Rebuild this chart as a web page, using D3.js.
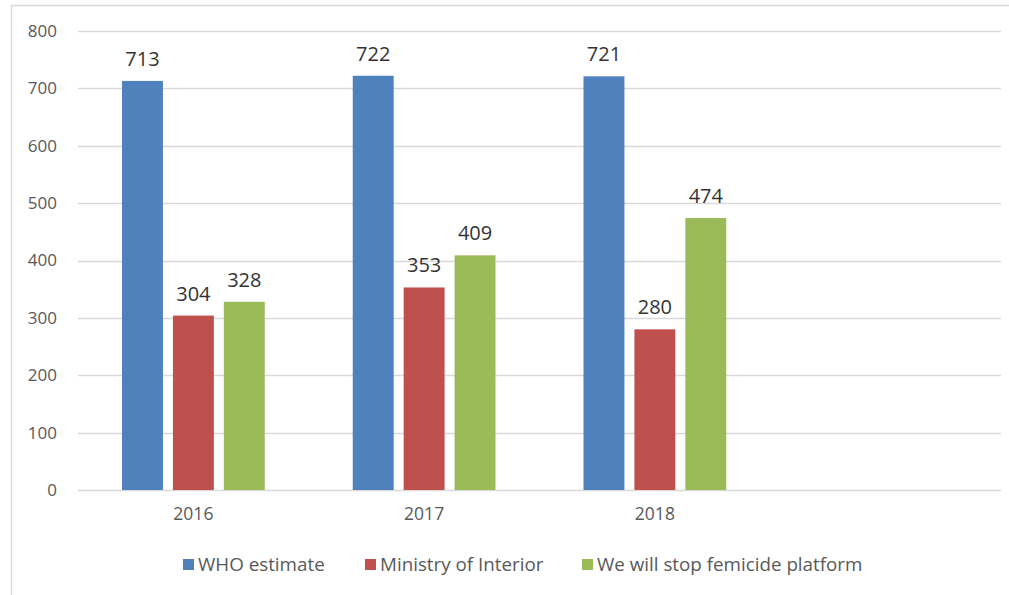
<!DOCTYPE html>
<html>
<head>
<meta charset="utf-8">
<script src="https://cdn.jsdelivr.net/npm/d3@7"></script>
<style>
  html, body { margin: 0; padding: 0; background: #ffffff; }
  svg { display: block; }
  text { font-family: "Open Sans", "DejaVu Sans", sans-serif; }
</style>
</head>
<body>
<svg id="chart" width="1009" height="595"></svg>
<script>
// Femicide counts by year and source
const years = ["2016", "2017", "2018", ""];
const seriesNames = ["WHO estimate", "Ministry of Interior", "We will stop femicide platform"];
const whoEstimate = [713, 722, 721];
const ministryOfInterior = [304, 353, 280];
const platformCounts = [328, 409, 474];
const seriesColors = ["#4F81BD", "#C0504D", "#9BBB59"];
const yTicks = [0, 100, 200, 300, 400, 500, 600, 700, 800];

const seriesValues = [whoEstimate, ministryOfInterior, platformCounts];

const svg = d3.select("#chart");
const W = 1009, H = 595;
const plot = { left: 78, right: 1001, top: 31, bottom: 490 };

// outer frame of the chart area
svg.append("rect")
  .attr("x", 11.5).attr("y", 5.5)
  .attr("width", W + 10).attr("height", H + 10)
  .attr("fill", "none").attr("stroke", "#d9d9d9").attr("stroke-width", 1.5);

const y = d3.scaleLinear().domain([0, 800]).range([plot.bottom, plot.top]);
const x0 = d3.scaleBand().domain(years).range([plot.left, plot.right]).padding(0);
const groupPad = 44;
const x1 = d3.scaleBand().domain(d3.range(seriesNames.length))
  .range([groupPad, x0.bandwidth() - groupPad]).paddingInner(0.196).paddingOuter(0);

// gridlines
svg.append("g").selectAll("line").data(yTicks).join("line")
  .attr("x1", plot.left).attr("x2", plot.right)
  .attr("y1", d => Math.round(y(d)) + 0.5).attr("y2", d => Math.round(y(d)) + 0.5)
  .attr("stroke", "#d9d9d9").attr("stroke-width", 1.5);

// y axis labels
const yAxis = d3.axisLeft(y).tickValues(yTicks).tickSize(0).tickPadding(0);
const yg = svg.append("g").attr("transform", `translate(${57},0)`).call(yAxis);
yg.select(".domain").remove();
yg.selectAll("text")
  .attr("fill", "#595959").attr("font-size", 17)
  .style("font-family", "'Open Sans', sans-serif");

// x axis labels
const xAxis = d3.axisBottom(x0).tickSize(0).tickPadding(0);
const xg = svg.append("g").attr("transform", `translate(0,${508})`).call(xAxis);
xg.select(".domain").remove();
xg.selectAll("text")
  .attr("fill", "#595959").attr("font-size", 17.5)
  .style("font-family", "'Open Sans', sans-serif");

// bars
const barData = [];
years.slice(0, 3).forEach((yr, i) => {
  seriesValues.forEach((vals, s) => {
    barData.push({ year: yr, s, value: vals[i] });
  });
});

const bars = svg.append("g");
bars.selectAll("rect").data(barData).join("rect")
  .attr("x", d => x0(d.year) + x1(d.s))
  .attr("y", d => y(d.value))
  .attr("width", x1.bandwidth())
  .attr("height", d => y(0) - y(d.value))
  .attr("fill", d => seriesColors[d.s]);

// value labels
svg.append("g").selectAll("text").data(barData).join("text")
  .attr("x", d => x0(d.year) + x1(d.s) + x1.bandwidth() / 2)
  .attr("y", d => y(d.value) - 15)
  .attr("text-anchor", "middle")
  .attr("fill", "#333333").attr("font-size", 20)
  .text(d => d.value);

// legend
const legendX = [183, 365, 582];
const legend = svg.append("g").attr("transform", "translate(0,559)");
const items = legend.selectAll("g").data(seriesNames).join("g")
  .attr("transform", (d, i) => `translate(${legendX[i]},0)`);
items.append("rect")
  .attr("width", 11).attr("height", 11)
  .attr("fill", (d, i) => seriesColors[i]);
items.append("text")
  .attr("x", 15).attr("y", 11.5)
  .attr("fill", "#595959").attr("font-size", 18.8)
  .text(d => d);
</script>
</body>
</html>
